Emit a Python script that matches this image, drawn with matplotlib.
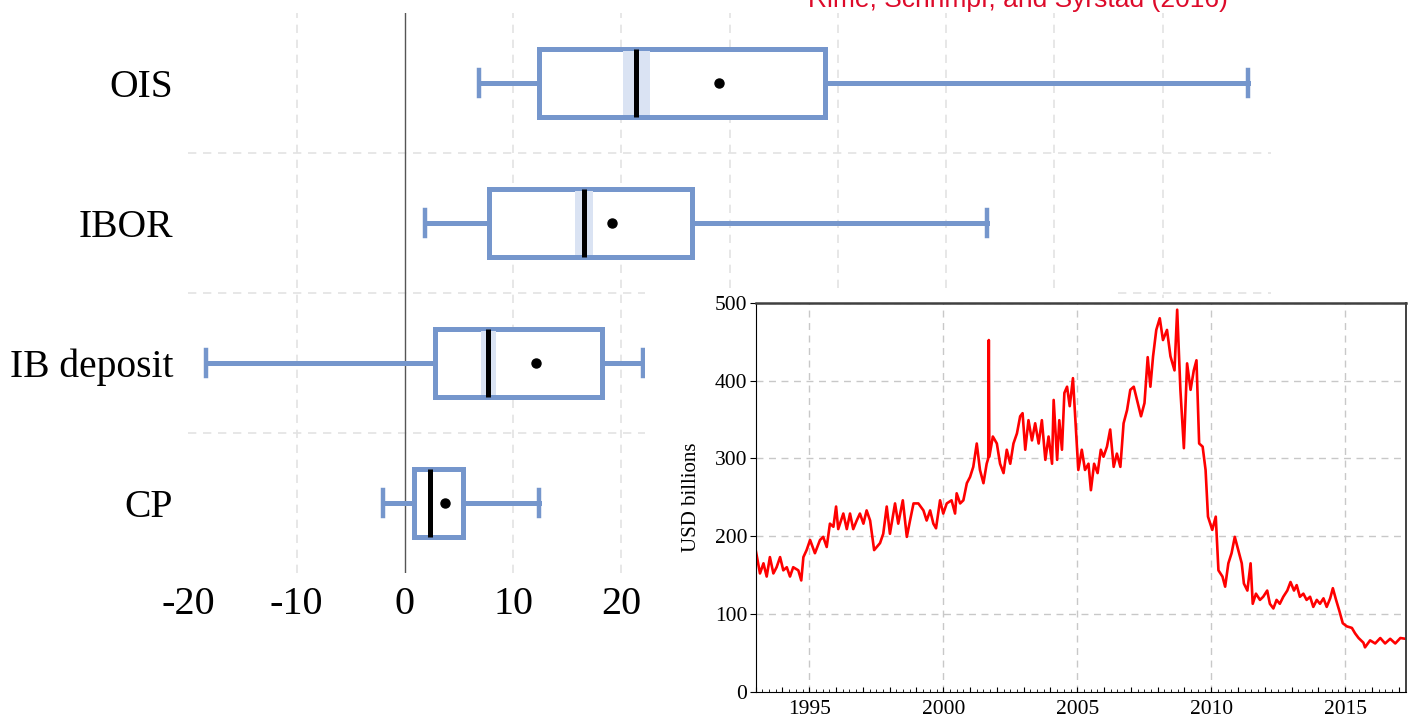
import numpy as np
import matplotlib
matplotlib.use("Agg")
import matplotlib.pyplot as plt
from matplotlib.patches import Rectangle
from matplotlib.ticker import MultipleLocator, FuncFormatter

plt.rcParams["font.family"] = ["Liberation Serif", "DejaVu Serif"]
plt.rcParams["axes.unicode_minus"] = False

# box plot data (basis points)
categories = ["OIS", "IBOR", "IB deposit", "CP"]
whisker_lo = [6.8, 1.9, -18.4, -2.0]
q1 = [12.4, 7.8, 2.8, 0.8]
median = [21.3, 16.5, 7.7, 2.3]
median_ci_lo = [20.1, 15.7, 7.0, 2.1]
median_ci_hi = [22.6, 17.4, 8.4, 2.5]
mean = [29.0, 19.15, 12.1, 3.7]
q3 = [38.8, 26.5, 18.2, 5.4]
whisker_hi = [77.9, 53.8, 22.0, 12.35]

x_ticks = [-20, -10, 0, 10, 20, 30, 40, 50, 60, 70]
x_labels = ["-20", "-10", "0", "10", "20", "", "", "", "", ""]  # rest sit under the inset

# inset series: USD billions
series_years = [
    1993.00, 1993.16, 1993.29, 1993.41, 1993.53, 1993.66, 1993.78, 1993.91,
    1994.03, 1994.16, 1994.28, 1994.40, 1994.59, 1994.70, 1994.78, 1994.90,
    1995.03, 1995.21, 1995.40, 1995.52, 1995.65, 1995.77, 1995.90, 1996.00,
    1996.08, 1996.27, 1996.40, 1996.52, 1996.64, 1996.77, 1996.89, 1997.02,
    1997.14, 1997.27, 1997.42, 1997.64, 1997.76, 1997.89, 1998.01, 1998.20,
    1998.32, 1998.49, 1998.64, 1998.76, 1998.89, 1999.07, 1999.26, 1999.38,
    1999.51, 1999.63, 1999.73, 1999.88, 2000.00, 2000.13, 2000.31, 2000.44,
    2000.50, 2000.63, 2000.75, 2000.88, 2001.00, 2001.12, 2001.25, 2001.37,
    2001.50, 2001.62, 2001.68, 2001.70, 2001.72, 2001.85, 2002.00, 2002.12,
    2002.25, 2002.37, 2002.50, 2002.62, 2002.75, 2002.87, 2002.96, 2003.06,
    2003.18, 2003.31, 2003.43, 2003.56, 2003.68, 2003.81, 2003.93, 2004.06,
    2004.12, 2004.25, 2004.33, 2004.43, 2004.52, 2004.62, 2004.72, 2004.84,
    2004.93, 2005.04, 2005.17, 2005.29, 2005.42, 2005.51, 2005.63, 2005.76,
    2005.88, 2005.98, 2006.11, 2006.23, 2006.36, 2006.48, 2006.61, 2006.73,
    2006.86, 2006.98, 2007.11, 2007.23, 2007.38, 2007.51, 2007.63, 2007.73,
    2007.83, 2007.95, 2008.08, 2008.20, 2008.35, 2008.48, 2008.63, 2008.73,
    2008.85, 2008.98, 2009.10, 2009.23, 2009.35, 2009.45, 2009.55, 2009.68,
    2009.79, 2009.88, 2010.04, 2010.17, 2010.27, 2010.42, 2010.52, 2010.64,
    2010.76, 2010.88, 2011.01, 2011.14, 2011.22, 2011.35, 2011.47, 2011.55,
    2011.67, 2011.82, 2011.94, 2012.09, 2012.19, 2012.32, 2012.44, 2012.56,
    2012.69, 2012.84, 2012.96, 2013.09, 2013.19, 2013.31, 2013.44, 2013.56,
    2013.69, 2013.81, 2013.94, 2014.06, 2014.19, 2014.31, 2014.44, 2014.54,
    2014.66, 2014.79, 2014.91, 2015.06, 2015.25, 2015.37, 2015.50, 2015.68,
    2015.74, 2015.93, 2016.12, 2016.31, 2016.49, 2016.68, 2016.87, 2017.06,
    2017.25,
]
series_values = [
    182, 152, 165, 148, 173, 152, 160, 173,
    156, 160, 148, 160, 156, 143, 173, 182,
    195, 178, 195, 199, 186, 216, 212, 238,
    209, 229, 209, 229, 209, 220, 229, 216,
    233, 220, 182, 191, 203, 238, 203, 242,
    216, 246, 199, 220, 242, 242, 233, 220,
    233, 216, 210, 246, 229, 242, 246, 229,
    255, 242, 246, 268, 276, 289, 319, 285,
    268, 293, 300, 452, 302, 328, 319, 293,
    281, 311, 293, 319, 332, 354, 358, 311,
    349, 323, 345, 319, 349, 298, 328, 293,
    375, 298, 349, 311, 384, 392, 367, 403,
    350, 285, 311, 285, 293, 259, 293, 281,
    311, 302, 315, 337, 289, 306, 289, 345,
    362, 388, 392, 375, 354, 371, 430, 392,
    431, 465, 480, 452, 465, 431, 413, 491,
    388, 313, 422, 388, 413, 426, 319, 315,
    285, 225, 208, 225, 156, 148, 135, 165,
    178, 199, 182, 165, 139, 130, 165, 113,
    126, 118, 122, 130, 113, 107, 118, 113,
    122, 130, 141, 130, 137, 122, 126, 118,
    122, 109, 118, 113, 120, 109, 120, 133,
    118, 103, 88, 84, 82, 75, 69, 63,
    57, 66, 62, 69, 62, 68, 62, 69,
    68,
]
inset_yticks = [0, 100, 200, 300, 400, 500]

BOX_BLUE = "#7596cc"
BAND_BLUE = "#dae3f3"
GRID = "#e3e3e3"

W, H = 1413, 719
fig = plt.figure(figsize=(W / 100, H / 100), dpi=100)

# ---- main box plot ----
ax = fig.add_axes([188.4 / W, (H - 573) / H, (1271 - 188.4) / W, 560 / H])
positions = np.arange(len(categories))
stats = []
for i, name in enumerate(categories):
    stats.append({"label": name, "whislo": whisker_lo[i], "q1": q1[i],
                  "med": median[i], "q3": q3[i], "whishi": whisker_hi[i],
                  "mean": mean[i], "fliers": []})

ax.bxp(stats, positions=positions, widths=0.48, orientation="horizontal",
       showfliers=False, showmeans=True, patch_artist=True, capwidths=0.19,
       boxprops=dict(facecolor="white", edgecolor=BOX_BLUE, linewidth=3.6),
       whiskerprops=dict(color=BOX_BLUE, linewidth=3.6),
       capprops=dict(color=BOX_BLUE, linewidth=3.2),
       medianprops=dict(color="black", linewidth=3.6, zorder=4),
       meanprops=dict(marker="o", markerfacecolor="black",
                      markeredgecolor="black", markersize=6.5, zorder=5))
ax.barh(positions, np.array(median_ci_hi) - np.array(median_ci_lo),
        left=median_ci_lo, height=0.455, color=BAND_BLUE, zorder=3)

ax.set_xlim(-20, 80)
ax.set_ylim(3.5, -0.5)
ax.set_xticks(x_ticks)
ax.set_xticklabels(x_labels)
ax.set_yticks(positions)
ax.set_yticklabels(categories)
ax.tick_params(axis="x", length=0, labelsize=29, pad=9)
ax.tick_params(axis="y", length=0, labelsize=28.5, pad=11)
for s in ax.spines.values():
    s.set_visible(False)
for t in x_ticks:
    if t != 0 and t != -20:
        ax.axvline(t, color=GRID, linestyle=(0, (5, 4)), linewidth=1.2, zorder=0)
for yy in positions[:-1] + 0.5:
    ax.axhline(yy, color=GRID, linestyle=(0, (5, 4)), linewidth=1.2, zorder=0)
ax.axvline(0, color="#555555", linewidth=1.0, zorder=1)

# white background of the pasted inset
fig.add_artist(Rectangle((645 / W, 0), (1118 - 645) / W, (H - 289) / H,
                         transform=fig.transFigure, facecolor="white",
                         edgecolor="none", zorder=1))
fig.add_artist(Rectangle((1118 / W, 0), (W - 1118) / W, (H - 298) / H,
                         transform=fig.transFigure, facecolor="white",
                         edgecolor="none", zorder=1))

# ---- inset time series ----
ins = fig.add_axes([755.7 / W, (H - 691.7) / H, (1406 - 755.7) / W, 389 / H])
ins.set_zorder(2)
ins.plot(series_years, series_values, color="#ff0000", linewidth=1.9)
ins.set_xlim(1993.0, 2017.27)
ins.set_ylim(0, 500)
ins.xaxis.set_major_locator(MultipleLocator(1))
ins.xaxis.set_minor_locator(MultipleLocator(0.25))
ins.xaxis.set_major_formatter(
    FuncFormatter(lambda v, p: f"{int(round(v))}" if round(v) % 5 == 0 else ""))
ins.set_yticks(inset_yticks)
ins.tick_params(axis="x", which="major", direction="in", length=3.5,
                width=0.8, labelsize=15.5, pad=6)
ins.tick_params(axis="x", which="minor", direction="in", length=2, width=0.6)
ins.tick_params(axis="y", direction="out", length=4, width=0.8,
                labelsize=15.5, pad=2)
for yr in [1995, 2000, 2005, 2010, 2015]:
    ins.axvline(yr, color="#c8c8c8", linestyle=(0, (5, 4)), linewidth=1.0, zorder=0)
for v in inset_yticks[1:]:
    ins.axhline(v, color="#c8c8c8", linestyle=(0, (5, 4)), linewidth=1.0, zorder=0)
ins.set_ylabel("USD billions", fontsize=15, labelpad=10)
ins.spines["left"].set_color("black")
ins.spines["bottom"].set_color("black")
ins.spines["top"].set_color("#404040")
ins.spines["top"].set_linewidth(1.8)
ins.spines["right"].set_color("#404040")
ins.spines["right"].set_linewidth(1.4)

# cut-off source note at the top
fig.text(1018 / W, 1 - 7 / H, "Rime, Schrimpf, and Syrstad (2016)",
         ha="center", va="baseline", fontsize=19, color="#dd0a2a",
         family=["Liberation Sans", "DejaVu Sans"])

fig.savefig("out.png", dpi=100)
